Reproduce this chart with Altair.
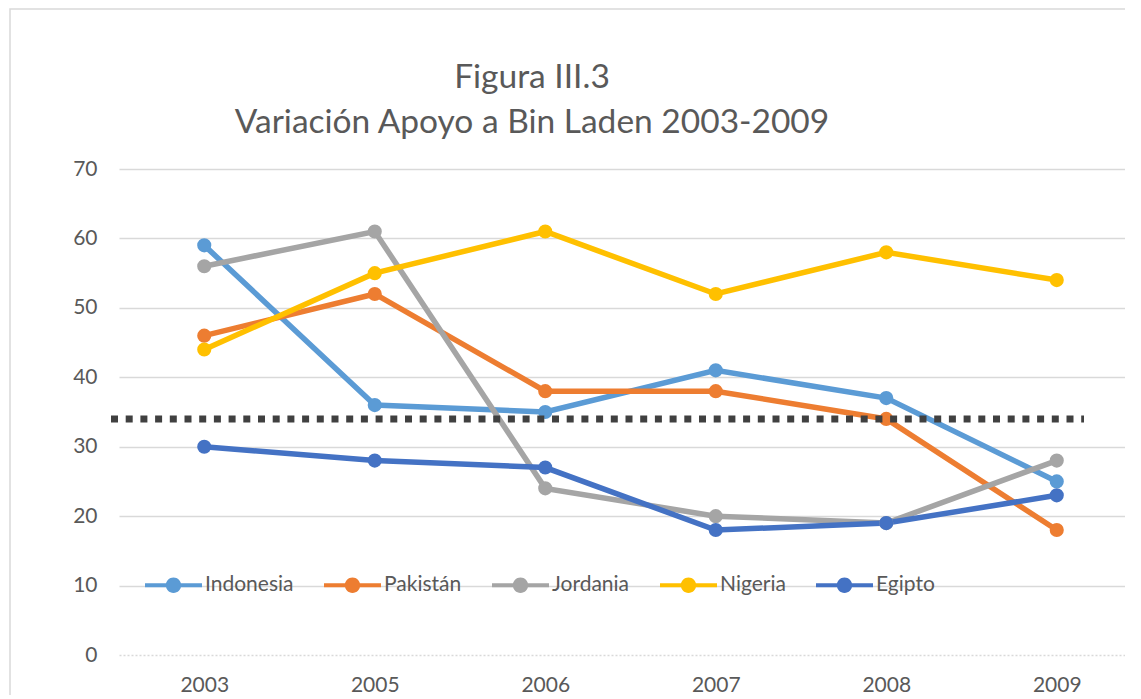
import altair as alt
import pandas as pd

years = ["2003", "2005", "2006", "2007", "2008", "2009"]
countries = ["Indonesia", "Pakistán", "Jordania", "Nigeria", "Egipto"]
colors = ["#5B9BD5", "#ED7D31", "#A5A5A5", "#FFC000", "#4472C4"]
indonesia = [59, 36, 35, 41, 37, 25]
pakistan = [46, 52, 38, 38, 34, 18]
jordania = [56, 61, 24, 20, 19, 28]
nigeria = [44, 55, 61, 52, 58, 54]
egipto = [30, 28, 27, 18, 19, 23]
reference_value = [34]
title_lines = ["Figura III.3", "Variación Apoyo a Bin Laden 2003-2009"]

series = dict(zip(countries, [indonesia, pakistan, jordania, nigeria, egipto]))
rows = []
for ci, c in enumerate(countries):
    for yi, (yr, v) in enumerate(zip(years, series[c])):
        rows.append({"year": yr, "value": v, "country": c, "order": ci})
df = pd.DataFrame(rows)
ref_df = pd.DataFrame({"v": reference_value})

FONT = "Lato"
TXT = "#595959"
W, H = 1006, 486

x_enc = alt.X("year:N", sort=years,
              scale=alt.Scale(paddingInner=0, paddingOuter=0, range=[0, 1023]),
              axis=alt.Axis(title=None, labelAngle=0, ticks=False, domain=False,
                            labelFontSize=21, labelFont=FONT, labelColor=TXT,
                            labelBaseline="middle", labelPadding=30, grid=False))
y_enc = alt.Y("value:Q", scale=alt.Scale(domain=[0, 70], nice=False),
              axis=alt.Axis(title=None, values=[0, 10, 20, 30, 40, 50, 60, 70],
                            ticks=False, domain=False, labelFontSize=21,
                            labelFont=FONT, labelColor=TXT, labelPadding=22,
                            gridColor="#D9D9D9", gridWidth=1.3,
                            gridDash={"condition": {"test": "datum.value === 0", "value": [2, 2]}, "value": []}))

color_scale = alt.Scale(domain=countries, range=colors)

sym_path = ("M-1,-0.07L1,-0.07L1,0.07L-1,0.07Z "
            "M0.27,0A0.27,0.27,0,1,1,-0.27,0A0.27,0.27,0,1,1,0.27,0Z")

lines = alt.Chart(df).mark_line(strokeWidth=5.5).encode(
    x=x_enc, y=y_enc,
    stroke=alt.Stroke("country:N", scale=color_scale, sort=countries, legend=None),
    order="order:Q",
)

points = alt.Chart(df).mark_point(filled=True, size=200, opacity=1, strokeWidth=0).encode(
    x=x_enc, y=y_enc,
    fill=alt.Fill("country:N", scale=color_scale, sort=countries,
                  legend=alt.Legend(title=None, orient="none", direction="horizontal",
                                    columns=5, legendX=26, legendY=387.5,
                                    symbolType=sym_path, symbolSize=3249,
                                    symbolStrokeWidth=0, symbolOpacity=1,
                                    labelFont=FONT, labelFontSize=21, labelColor=TXT,
                                    labelOffset=3, columnPadding=30)),
)

ref_rule = alt.Chart(ref_df).mark_rule(color="#404040", strokeWidth=7,
                                       strokeDash=[7, 7.7]).encode(
    y=alt.Y("v:Q"), x=alt.value(-8), x2=alt.value(965)
)

frame = alt.Chart(ref_df).mark_rect(fill=None, stroke="#D9D9D9", strokeWidth=1.5).encode(
    x=alt.value(-109), x2=alt.value(1100), y=alt.value(-160), y2=alt.value(700)
)

chart = alt.layer(frame, lines, points, ref_rule).resolve_scale(
    fill="independent", stroke="independent"
).properties(
    width=W, height=H,
    title=alt.TitleParams(title_lines, font=FONT, fontSize=33.5, fontWeight="normal",
                          color=TXT, anchor="middle", frame="group", dx=-90,
                          offset=30, dy=162, lineHeight=45),
    autosize=alt.AutoSizeParams(type="none"),
    padding={"left": 111, "top": 161, "right": 0, "bottom": 40},
).configure_view(stroke=None)

chart.save("out.html", embed_options={"renderer": "svg", "actions": False})
